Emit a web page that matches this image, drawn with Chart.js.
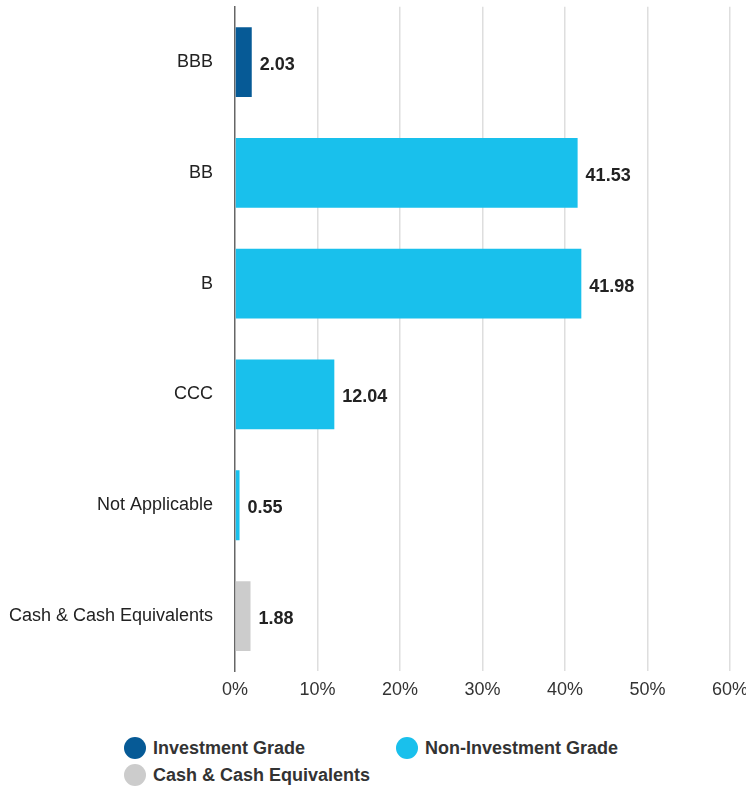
<!DOCTYPE html>
<html>
<head>
<meta charset="utf-8">
<script src="https://cdn.jsdelivr.net/npm/chart.js@4.4.0/dist/chart.umd.min.js"></script>
<style>
  body { margin: 0; background: #fff; font-family: "Liberation Sans Narrow", "Arial Narrow", "Liberation Sans", sans-serif; overflow: hidden; }
  #wrap { position: relative; width: 746px; height: 786px; overflow: hidden; }
  #chart { position: absolute; left: 0; top: -18px; }
  .legend { position: absolute; font-weight: bold; font-size: 18px; color: #333; display: flex; align-items: center; }
  .dot { width: 22px; height: 22px; border-radius: 50%; margin-right: 7px; }
</style>
</head>
<body>
<div id="wrap">
  <canvas id="chart" width="756" height="727"></canvas>
  <div class="legend" style="left:124px; top:737px;"><span class="dot" style="background:#065a96"></span>Investment Grade</div>
  <div class="legend" style="left:396px; top:737px;"><span class="dot" style="background:#19c0ec"></span>Non-Investment Grade</div>
  <div class="legend" style="left:124px; top:764px;"><span class="dot" style="background:#cccccc"></span>Cash &amp; Cash Equivalents</div>
</div>
<script>
const categories = ['BBB', 'BB', 'B', 'CCC', 'Not Applicable', 'Cash & Cash Equivalents'];
const values = [2.03, 41.53, 41.98, 12.04, 0.55, 1.88];
const groups = ['inv', 'noninv', 'noninv', 'noninv', 'noninv', 'cash'];
const xTicks = [0, 10, 20, 30, 40, 50, 60];

const groupColors = { inv: '#065a96', noninv: '#19c0ec', cash: '#cccccc' };
const FONT = '"Liberation Sans Narrow", "Arial Narrow", "Liberation Sans", sans-serif';

// value labels at the end of each bar
const valueLabels = {
    id: 'valueLabels',
    afterDatasetsDraw(chart) {
        const ctx = chart.ctx;
        const meta = chart.getDatasetMeta(0);
        ctx.save();
        ctx.font = 'bold 18px ' + FONT;
        ctx.fillStyle = '#222';
        ctx.textAlign = 'left';
        ctx.textBaseline = 'middle';
        meta.data.forEach((bar, i) => {
            ctx.fillText(values[i].toFixed(2), bar.x + 8, bar.y + 3);
        });
        ctx.restore();
    }
};

new Chart(document.getElementById('chart'), {
    type: 'bar',
    data: {
        labels: categories,
        datasets: [{
            data: values,
            backgroundColor: groups.map(g => groupColors[g]),
            barPercentage: 0.63,
            categoryPercentage: 1
        }]
    },
    options: {
        indexAxis: 'y',
        responsive: false,
        animation: false,
        layout: { padding: { top: 6, right: 0, bottom: 0, left: 0 } },
        plugins: { legend: { display: false }, tooltip: { enabled: false } },
        scales: {
            x: {
                min: 0, max: 60,
                afterBuildTicks: s => { s.ticks = xTicks.map(v => ({ value: v })); },
                border: { display: false },
                grid: {
                    color: c => c.index === 0 ? 'rgba(0,0,0,0)' : '#dedede',
                    lineWidth: 1.5,
                    drawTicks: false
                },
                ticks: {
                    callback: v => v + '%',
                    color: '#333',
                    font: { family: FONT, size: 18 },
                    padding: 8
                }
            },
            y: {
                afterFit: s => { s.width = 235; },
                border: { display: true, color: '#666', width: 1.5 },
                grid: { display: false },
                ticks: {
                    color: '#222',
                    font: { family: FONT, size: 18 },
                    padding: 14
                }
            }
        }
    },
    plugins: [valueLabels]
});
</script>
</body>
</html>
